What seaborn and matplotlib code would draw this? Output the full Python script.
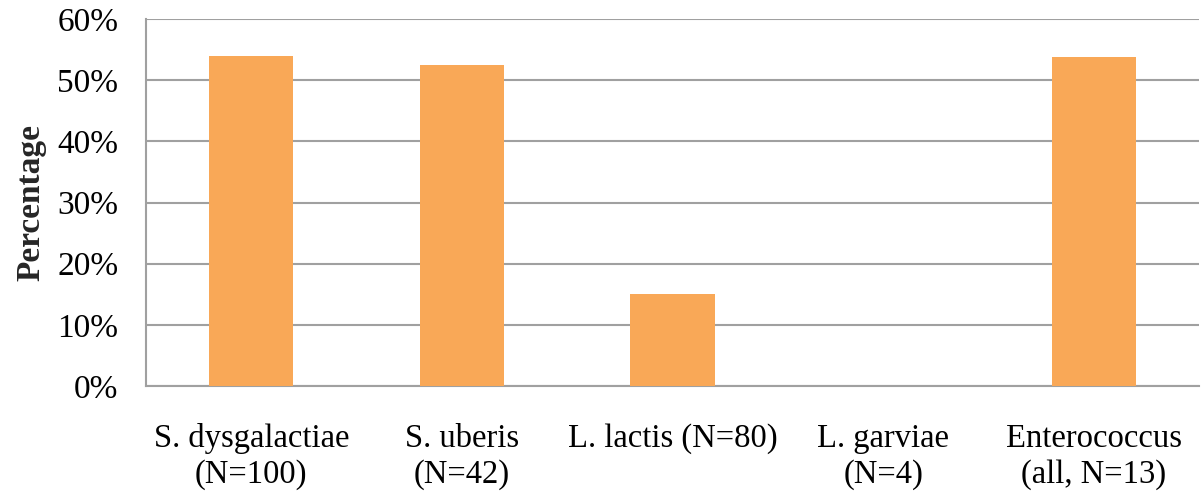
import matplotlib
matplotlib.use("Agg")
import matplotlib.pyplot as plt
import seaborn as sns
import pandas as pd
from matplotlib.ticker import PercentFormatter

categories = ["S. dysgalactiae\n(N=100)", "S. uberis\n(N=42)", "L. lactis (N=80)",
              "L. garviae\n(N=4)", "Enterococcus\n(all, N=13)"]
values = [54.0, 52.4, 15.0, 0.0, 53.8]
yticks = [0, 10, 20, 30, 40, 50, 60]

sns.set_theme(style="white")
plt.rcParams['font.family'] = ['Liberation Serif', 'DejaVu Serif']

df = pd.DataFrame({"cat": categories, "val": values})

fig = plt.figure(figsize=(12.02, 4.93), dpi=100)
ax = fig.add_axes([146/1202, 1-386/493, (1199-146)/1202, (386-19)/493])
sns.barplot(data=df, x="cat", y="val", color="#F9A857", saturation=1, width=0.4,
            linewidth=0, ax=ax, zorder=3)

ax.set_ylim(0, 60)
ax.set_yticks(yticks)
ax.yaxis.set_major_formatter(PercentFormatter(decimals=0))
ax.set_xlim(-0.5, 4.5)
ax.grid(axis="y", color="#A0A0A0", linewidth=1.5, zorder=0)
ax.set_axisbelow(True)
for s in ["top", "right"]:
    ax.spines[s].set_visible(False)
for s in ["left", "bottom"]:
    ax.spines[s].set_color("#A0A0A0")
    ax.spines[s].set_linewidth(1.5)
ax.tick_params(axis="y", length=0, labelsize=24, colors="black", pad=20)
ax.tick_params(axis="x", length=0, labelsize=23.5, colors="black", pad=27)
for lab in ax.get_xticklabels():
    lab.set_linespacing(1.2)
ax.set_xlabel("")
ax.set_ylabel("Percentage", fontsize=24, fontweight="bold", labelpad=8)

fig.savefig("out.png", dpi=100)
